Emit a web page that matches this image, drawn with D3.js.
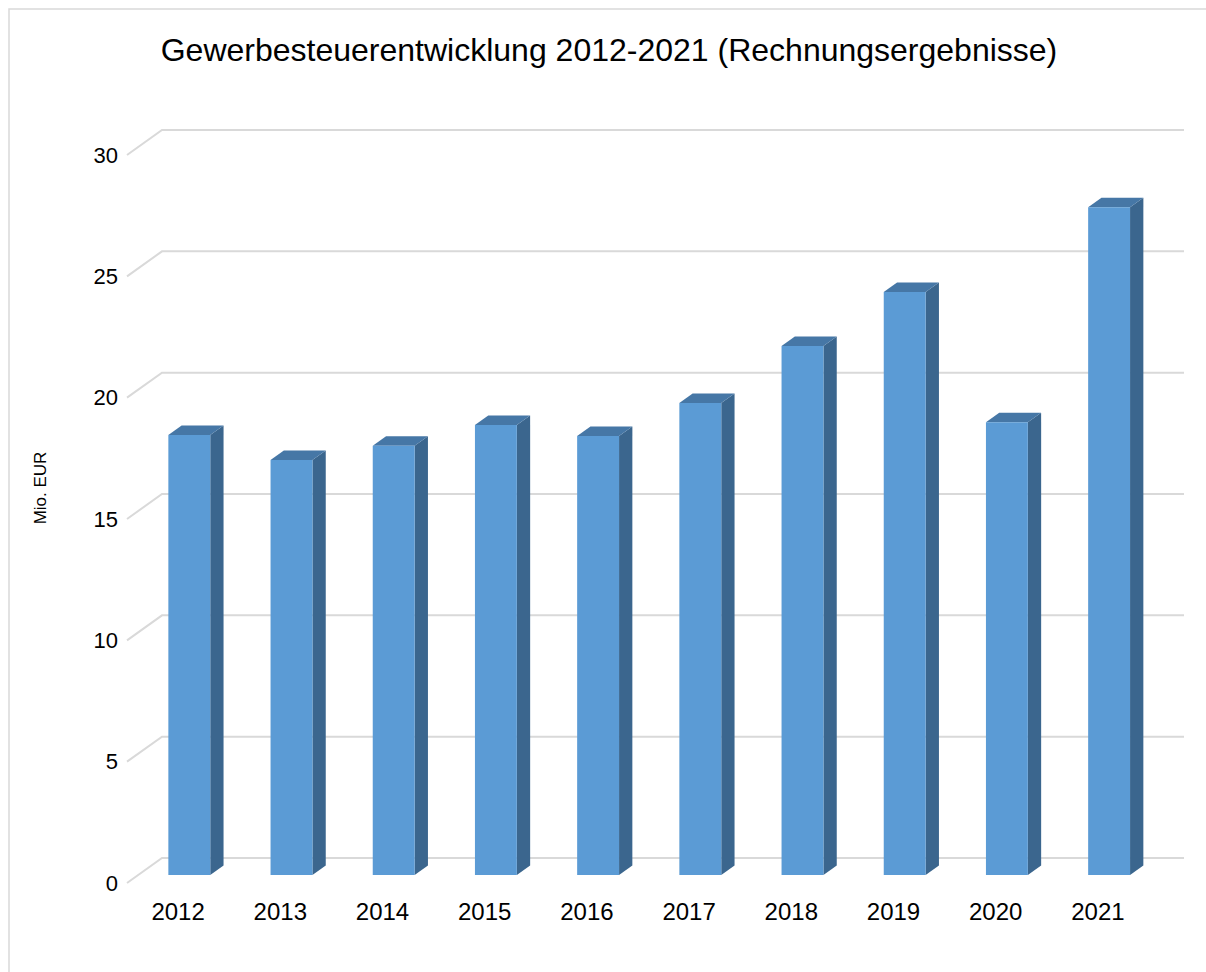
<!DOCTYPE html>
<html>
<head>
<meta charset="utf-8">
<script src="https://cdn.jsdelivr.net/npm/d3@7"></script>
<style>
  html, body { margin: 0; padding: 0; background: #fff; }
  svg { display: block; }
  text { font-family: "Liberation Sans", Arial, sans-serif; fill: #000; }
</style>
</head>
<body>
<svg id="chart" width="1206" height="972"></svg>
<script>
// ---- data ----
const titleText = "Gewerbesteuerentwicklung 2012-2021 (Rechnungsergebnisse)";
const yAxisTitle = "Mio. EUR";
const years = ["2012", "2013", "2014", "2015", "2016", "2017", "2018", "2019", "2020", "2021"];
const values = [18.13, 17.10, 17.69, 18.54, 18.09, 19.45, 21.80, 24.02, 18.66, 27.52];
const yTicks = [0, 5, 10, 15, 20, 25, 30];

// ---- layout ----
const svg = d3.select("#chart");
const W = 1206, H = 972;
const frontLeft = 127, frontRight = 1149, frontZeroY = 883, frontTopY = 155;
const depthX = 35, depthY = 25;          // floor depth offsets (oblique projection)
const barD0 = 0.32, barD1 = 0.70;        // bar depth span as fraction of floor depth

const x = d3.scaleBand().domain(years).range([frontLeft, frontRight])
  .paddingInner(0.59).paddingOuter(0.295);
const y = d3.scaleLinear().domain([0, 30]).range([frontZeroY, frontTopY]);
const proj = (px, py, d) => [px + d * depthX, py - d * depthY];

// outer border
svg.append("rect").attr("x", 9).attr("y", 9).attr("width", W).attr("height", H)
  .attr("fill", "none").attr("stroke", "#D9D9D9").attr("stroke-width", 1.5);

// title
svg.append("text").attr("x", 609).attr("y", 61).attr("text-anchor", "middle")
  .attr("font-size", 32).text(titleText);

// gridlines (side wall diagonal + back wall horizontal)
const grid = svg.append("g");
yTicks.forEach(t => {
  const yf = y(t);
  const pts = [[frontLeft, yf], proj(frontLeft, yf, 1), [frontRight + depthX, yf - depthY]];
  grid.append("path").attr("d", d3.line()(pts))
    .attr("fill", "none").attr("stroke", "#D9D9D9").attr("stroke-width", 2);
});

// y tick labels
svg.append("g").selectAll("text").data(yTicks).join("text")
  .attr("x", 118).attr("y", d => y(d)).attr("dy", "0.35em")
  .attr("text-anchor", "end").attr("font-size", 22).text(d => d);

// y axis title
svg.append("text").attr("transform", "translate(46,488) rotate(-90)")
  .attr("text-anchor", "middle").attr("font-size", 17).text(yAxisTitle);

// x labels
svg.append("g").selectAll("text").data(years).join("text")
  .attr("x", d => x(d) + x.bandwidth() / 2).attr("y", 920)
  .attr("text-anchor", "middle").attr("font-size", 24).text(d => d);

// bars (3D)
const bars = svg.append("g");
years.forEach((yr, i) => {
  const x0 = x(yr), x1 = x(yr) + x.bandwidth();
  const yb = y(0), yt = y(values[i]);
  const fbl = proj(x0, yb, barD0), fbr = proj(x1, yb, barD0);
  const ftl = proj(x0, yt, barD0), ftr = proj(x1, yt, barD0);
  const btl = proj(x0, yt, barD1), btr = proj(x1, yt, barD1), bbr = proj(x1, yb, barD1);
  // side
  bars.append("path").attr("d", d3.line()([fbr, ftr, btr, bbr]) + "Z").attr("fill", "#3B668E");
  // top
  bars.append("path").attr("d", d3.line()([ftl, ftr, btr, btl]) + "Z").attr("fill", "#4677A6");
  // front
  bars.append("path").attr("d", d3.line()([fbl, fbr, ftr, ftl]) + "Z").attr("fill", "#5B9BD5");
});
</script>
</body>
</html>
